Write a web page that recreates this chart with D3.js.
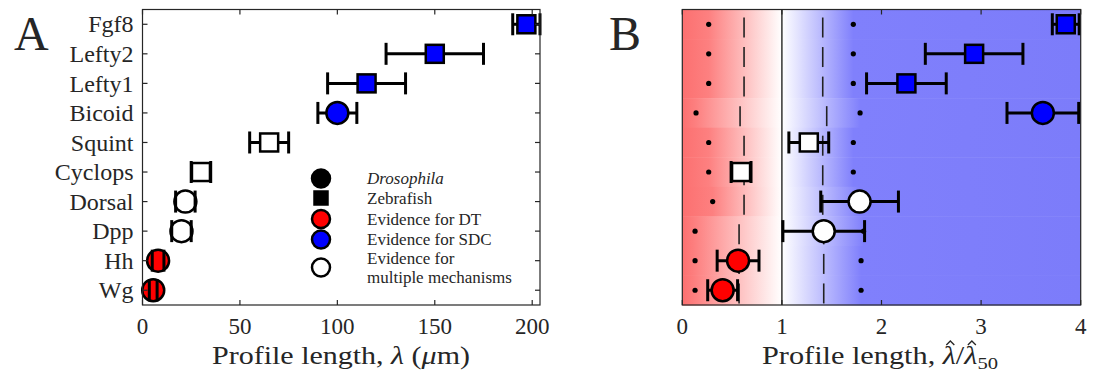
<!DOCTYPE html>
<html>
<head>
<meta charset="utf-8">
<script src="https://cdn.jsdelivr.net/npm/d3@7"></script>
<style>
  body { margin: 0; background: #fff; }
  text { font-family: "Liberation Serif", "DejaVu Serif", serif; fill: #262626; }
</style>
</head>
<body>
<script>
// rows listed top to bottom
const genes = ['Fgf8', 'Lefty2', 'Lefty1', 'Bicoid', 'Squint', 'Cyclops', 'Dorsal', 'Dpp', 'Hh', 'Wg'];
const organism = ['Zebrafish', 'Zebrafish', 'Zebrafish', 'Drosophila', 'Zebrafish', 'Zebrafish',
  'Drosophila', 'Drosophila', 'Drosophila', 'Drosophila'];
const evidence = ['SDC', 'SDC', 'SDC', 'SDC', 'multiple', 'multiple', 'multiple', 'multiple', 'DT', 'DT'];

// panel A: profile length (um)
const lengthMean = [197, 150, 115, 100, 65, 30, 22, 20, 8, 5.5];
const lengthErr = [7, 25, 20, 10, 10, 5, 5, 5, 3, 2];

// panel B: normalised profile length
const ratioMean = [3.85, 2.93, 2.25, 3.62, 1.27, 0.59, 1.78, 1.42, 0.56, 0.405];
const ratioErr = [0.135, 0.49, 0.4, 0.36, 0.2, 0.1, 0.39, 0.41, 0.21, 0.15];
const dotLow = [0.265, 0.265, 0.265, 0.138, 0.265, 0.265, 0.305, 0.128, 0.128, 0.128];
const dotHigh = [1.717, 1.717, 1.717, 1.785, 1.717, 1.717, 1.78, 1.82, 1.795, 1.795];
const dashLow = [0.62, 0.62, 0.62, 0.58, 0.62, 0.62, 0.62, 0.57, 0.57, 0.57];
const dashHigh = [1.41, 1.41, 1.41, 1.45, 1.41, 1.41, 1.41, 1.42, 1.42, 1.42];

const ticksA = [0, 50, 100, 150, 200];
const ticksB = [0, 1, 2, 3, 4];

const legendItems = [
  { label: 'Drosophila', shape: 'circle', fill: '#000', italic: true },
  { label: 'Zebrafish', shape: 'square', fill: '#000' },
  { label: 'Evidence for DT', shape: 'circle', fill: '#f00' },
  { label: 'Evidence for SDC', shape: 'circle', fill: '#00f' },
  { label: ['Evidence for', 'multiple mechanisms'], shape: 'circle', fill: '#fff' }
];

const colourOf = { DT: '#ff0000', SDC: '#0000ff', multiple: '#ffffff' };

const width = 1097;
const height = 380;
const plotTop = 9.5;
const plotBottom = 305;

const svg = d3.select('body').append('svg')
  .attr('width', width)
  .attr('height', height)
  .attr('font-family', '"Liberation Serif", "DejaVu Serif", serif');

const defs = svg.append('defs');

const y = d3.scalePoint().domain(genes).range([plotTop, plotBottom]).padding(0.5);
const step = y.step();

function drawMarker(g, cx, cy, shape, fill, size) {
  if (shape === 'circle') {
    g.append('circle')
      .attr('cx', cx).attr('cy', cy).attr('r', size / 2)
      .attr('fill', fill).attr('stroke', '#000').attr('stroke-width', 2.5);
  } else {
    g.append('rect')
      .attr('x', cx - size / 2).attr('y', cy - size / 2)
      .attr('width', size).attr('height', size)
      .attr('fill', fill).attr('stroke', '#000').attr('stroke-width', 2.5);
  }
}

function drawPoints(g, x, means, errs) {
  genes.forEach((gene, i) => {
    const cy = y(gene);
    const x0 = x(means[i] - errs[i]);
    const x1 = x(means[i] + errs[i]);
    g.append('line')
      .attr('x1', x0).attr('x2', x1).attr('y1', cy).attr('y2', cy)
      .attr('stroke', '#000').attr('stroke-width', 3);
    const isCircle = organism[i] === 'Drosophila';
    drawMarker(g, x(means[i]), cy, isCircle ? 'circle' : 'square',
      colourOf[evidence[i]], isCircle ? 22 : 18);
    // caps sit on top of the marker, as in the original
    [x0, x1].forEach((cx) => {
      g.append('line')
        .attr('x1', cx).attr('x2', cx).attr('y1', cy - 11).attr('y2', cy + 11)
        .attr('stroke', '#000').attr('stroke-width', 3);
    });
  });
}

function drawFrame(g, x, ticks, left, right, withY) {
  const frame = g.append('g').attr('stroke', '#262626').attr('stroke-width', 1.2);
  frame.append('rect')
    .attr('x', left).attr('y', plotTop)
    .attr('width', right - left).attr('height', plotBottom - plotTop)
    .attr('fill', 'none');
  ticks.forEach((t) => {
    frame.append('line').attr('x1', x(t)).attr('x2', x(t)).attr('y1', plotBottom).attr('y2', plotBottom - 5);
    frame.append('line').attr('x1', x(t)).attr('x2', x(t)).attr('y1', plotTop).attr('y2', plotTop + 5);
    g.append('text')
      .attr('x', x(t)).attr('y', 334)
      .attr('text-anchor', 'middle')
      .style('font-size', '23px')
      .text(t);
  });
  if (withY) {
    genes.forEach((gene) => {
      frame.append('line').attr('x1', left).attr('x2', left + 5).attr('y1', y(gene)).attr('y2', y(gene));
      frame.append('line').attr('x1', right).attr('x2', right - 5).attr('y1', y(gene)).attr('y2', y(gene));
      g.append('text')
        .attr('x', left - 9).attr('y', y(gene))
        .attr('dy', '0.34em')
        .attr('text-anchor', 'end')
        .style('font-size', '24px')
        .text(gene);
    });
  }
}

// ---------- panel A ----------
const xA = d3.scaleLinear().domain([0, 204]).range([142.5, 540]);
const gA = svg.append('g');

drawPoints(gA, xA, lengthMean, lengthErr);
drawFrame(gA, xA, ticksA, 142.5, 540, true);

// legend
const rowY = [178.5, 198, 219, 239.5, 267.5];
legendItems.forEach((item, i) => {
  drawMarker(gA, 321, rowY[i], item.shape, item.fill, item.shape === 'circle' ? 18 : 13);
  const lines = Array.isArray(item.label) ? item.label : [item.label];
  lines.forEach((line, j) => {
    gA.append('text')
      .attr('x', 367)
      .attr('y', rowY[i] + (j - (lines.length - 1) / 2) * 19)
      .attr('dy', '0.34em')
      .style('font-size', '17px')
      .style('font-style', item.italic ? 'italic' : 'normal')
      .text(line);
  });
});

gA.append('text')
  .attr('x', 341).attr('y', 364)
  .attr('text-anchor', 'middle')
  .attr('textLength', 258)
  .attr('lengthAdjust', 'spacingAndGlyphs')
  .style('font-size', '25px')
  .html('Profile length, <tspan font-style="italic">λ</tspan> (<tspan font-style="italic">μ</tspan>m)');

gA.append('text').attr('x', 14).attr('y', 50).style('font-size', '48px').text('A');

// ---------- panel B ----------
const xB = d3.scaleLinear().domain([0, 4]).range([682.3, 1080.7]);
const gB = svg.append('g');

genes.forEach((gene, i) => {
  const rowTop = y(gene) - step / 2;
  const redId = 'red' + i;
  const blueId = 'blue' + i;
  const red = defs.append('linearGradient').attr('id', redId)
    .attr('gradientUnits', 'userSpaceOnUse')
    .attr('x1', xB(0)).attr('x2', xB(1)).attr('y1', 0).attr('y2', 0);
  red.append('stop').attr('offset', 0).attr('stop-color', 'rgb(252,112,112)');
  red.append('stop').attr('offset', dotLow[i]).attr('stop-color', 'rgb(253,128,128)');
  red.append('stop').attr('offset', 1).attr('stop-color', '#fff');
  const blue = defs.append('linearGradient').attr('id', blueId)
    .attr('gradientUnits', 'userSpaceOnUse')
    .attr('x1', xB(1)).attr('x2', xB(4)).attr('y1', 0).attr('y2', 0);
  blue.append('stop').attr('offset', 0).attr('stop-color', '#fff');
  blue.append('stop').attr('offset', (dotHigh[i] - 1) / 3).attr('stop-color', 'rgb(128,128,252)');
  blue.append('stop').attr('offset', 1).attr('stop-color', 'rgb(124,124,250)');

  gB.append('rect')
    .attr('x', xB(0)).attr('y', rowTop)
    .attr('width', xB(1) - xB(0)).attr('height', step + 0.5)
    .attr('fill', `url(#${redId})`);
  gB.append('rect')
    .attr('x', xB(1)).attr('y', rowTop)
    .attr('width', xB(4) - xB(1)).attr('height', step + 0.5)
    .attr('fill', `url(#${blueId})`);
});

gB.append('line')
  .attr('x1', xB(1)).attr('x2', xB(1)).attr('y1', plotTop).attr('y2', plotBottom)
  .attr('stroke', '#333').attr('stroke-width', 1.5);

genes.forEach((gene, i) => {
  const rowTop = y(gene) - step / 2;
  [dashLow[i], dashHigh[i]].forEach((v) => {
    gB.append('line')
      .attr('x1', xB(v)).attr('x2', xB(v))
      .attr('y1', rowTop + 8).attr('y2', rowTop + 28)
      .attr('stroke', '#222').attr('stroke-width', 1.6);
  });
  [dotLow[i], dotHigh[i]].forEach((v) => {
    gB.append('circle')
      .attr('cx', xB(v)).attr('cy', y(gene)).attr('r', 2.6)
      .attr('fill', '#000');
  });
});

drawPoints(gB, xB, ratioMean, ratioErr);
drawFrame(gB, xB, ticksB, 682.3, 1080.7, false);

const labelB = gB.append('text')
  .attr('x', 880).attr('y', 364)
  .attr('text-anchor', 'middle')
  .attr('textLength', 236)
  .attr('lengthAdjust', 'spacingAndGlyphs')
  .style('font-size', '25px');
labelB.append('tspan').text('Profile length, ');
labelB.append('tspan').attr('font-style', 'italic').text('λ');
labelB.append('tspan').text('/');
labelB.append('tspan').attr('font-style', 'italic').text('λ');
labelB.append('tspan').attr('dy', 5).style('font-size', '17px').text('50');

// hats over the two lambdas
[16, 18].forEach((idx) => {
  const box = labelB.node().getExtentOfChar(idx);
  const cx = box.x + box.width / 2 + 1;
  const ty = box.y + 3;
  gB.append('path')
    .attr('d', `M${cx - 4},${ty} L${cx},${ty - 4} L${cx + 4},${ty}`)
    .attr('fill', 'none')
    .attr('stroke', '#262626')
    .attr('stroke-width', 1.3);
});

gB.append('text').attr('x', 609).attr('y', 50).style('font-size', '48px').text('B');
</script>
</body>
</html>
